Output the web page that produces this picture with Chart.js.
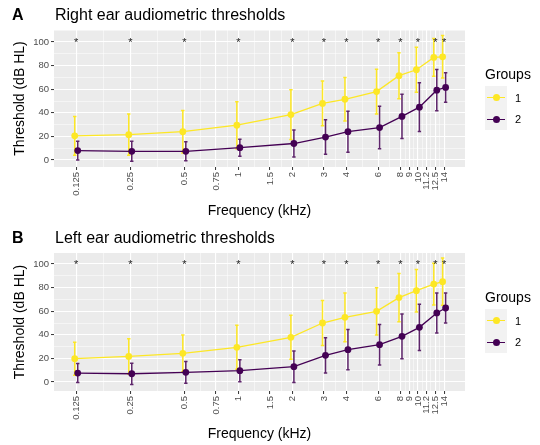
<!DOCTYPE html>
<html>
<head>
<meta charset="utf-8">
<script src="https://cdn.jsdelivr.net/npm/chart.js@4/dist/chart.umd.min.js"></script>
<style>
  body { margin: 0; width: 540px; height: 445px; background: #fff; position: relative; overflow: hidden;
         font-family: "Liberation Sans", Arial, sans-serif; color: #000; }
  .panel { position: absolute; left: 0; width: 540px; height: 222px; }
  .panel canvas { position: absolute; left: 0; top: 0; }
  .tag { position: absolute; left: 12px; top: 6px; font-size: 16px; line-height: 18px; font-weight: bold; }
  .title { position: absolute; left: 55px; top: 6px; font-size: 16px; line-height: 18px; }
  .lg-title { position: absolute; left: 485px; top: 66px; font-size: 14px; line-height: 16px; }
  .lg-box { position: absolute; left: 485px; top: 86px; width: 22px; height: 44px; background: #F2F2F2; }
  .key { position: absolute; left: 0; width: 22px; height: 22px; }
  .key .ln { position: absolute; left: 2px; right: 2px; top: 10.5px; height: 1.3px; }
  .key .pt { position: absolute; left: 7.5px; top: 7.5px; width: 7px; height: 7px; border-radius: 50%; }
  .lg-lab { position: absolute; left: 515px; font-size: 11px; line-height: 12px; }
</style>
</head>
<body>

<div class="panel" style="top:0">
  <canvas id="chartA" width="540" height="222"></canvas>
  <div class="tag">A</div>
  <div class="title">Right ear audiometric thresholds</div>
  <div class="lg-title">Groups</div>
  <div class="lg-box">
    <div class="key" style="top:0"><div class="ln" style="background:#FDE725"></div><div class="pt" style="background:#FDE725"></div></div>
    <div class="key" style="top:22px"><div class="ln" style="background:#440154"></div><div class="pt" style="background:#440154"></div></div>
  </div>
  <div class="lg-lab" style="top:92px">1</div>
  <div class="lg-lab" style="top:113px">2</div>
</div>

<div class="panel" style="top:223px">
  <canvas id="chartB" width="540" height="222"></canvas>
  <div class="tag">B</div>
  <div class="title">Left ear audiometric thresholds</div>
  <div class="lg-title">Groups</div>
  <div class="lg-box">
    <div class="key" style="top:0"><div class="ln" style="background:#FDE725"></div><div class="pt" style="background:#FDE725"></div></div>
    <div class="key" style="top:22px"><div class="ln" style="background:#440154"></div><div class="pt" style="background:#440154"></div></div>
  </div>
  <div class="lg-lab" style="top:92px">1</div>
  <div class="lg-lab" style="top:113px">2</div>
</div>

<script>
// tested frequencies (kHz)
const freqs = [0.125, 0.25, 0.5, 1, 2, 3, 4, 6, 8, 10, 12.5, 14];

// x axis breaks
const tickFreqs  = [0.125, 0.25, 0.5, 0.75, 1, 1.5, 2, 3, 4, 6, 8, 9, 10, 11.2, 12.5, 14];
const tickLabels = ["0.125", "0.25", "0.5", "0.75", "1", "1.5", "2", "3", "4", "6", "8", "9", "10", "11.2", "12.5", "14"];
const minorFreqs = [0.177, 0.354, 0.612, 0.866, 1.225, 1.732, 2.449, 3.464, 4.899, 6.928, 8.485, 9.487, 10.58, 11.83, 13.23];

// y axis breaks
const yMajor = [0, 20, 40, 60, 80, 100];
const yMinor = [10, 30, 50, 70, 90, 110];

// right ear, mean and SD
const rightG1   = [20.5, 21.5, 24, 29.5, 38.5, 48, 51.5, 58, 71.5, 76.5, 87, 87.5];
const rightG1Sd = [16.5, 17.5, 18, 20, 21, 19, 18.5, 19, 19.5, 19, 16, 18];
const rightG2   = [8, 7.4, 7.4, 10.5, 14, 19.5, 24, 27.5, 37, 44.8, 59.2, 61.5];
const rightG2Sd = [8, 8.5, 8, 7.2, 11.5, 14.7, 17.4, 18, 18.7, 20.7, 17.5, 12.5];

// left ear, mean and SD
const leftG1   = [19.8, 21.7, 24.3, 29.4, 37.9, 50, 54.8, 59.9, 71.5, 77.4, 83, 85];
const leftG1Sd = [14, 15, 15.5, 18.6, 18.6, 19, 20.7, 20, 20.5, 18, 17.7, 20];
const leftG2   = [7.6, 7, 8.2, 9.6, 13, 22.6, 27.4, 31.6, 38.7, 46.3, 58.5, 62.7];
const leftG2Sd = [8, 9, 9.2, 9.3, 13.3, 15, 17, 17.2, 19, 19.6, 17, 12.7];

// significance markers
const sigFreqs = [0.125, 0.25, 0.5, 1, 2, 3, 4, 6, 8, 10, 12.5, 14];
const sigY = 102;

const YELLOW = "#FDE725";
const PURPLE = "#440154";

const panelBg = {
  id: "panelBg",
  beforeDraw(chart) {
    const a = chart.chartArea, c = chart.ctx;
    c.save();
    c.fillStyle = "#EBEBEB";
    c.fillRect(a.left, a.top, a.right - a.left, a.bottom - a.top);
    c.restore();
  }
};

// position_dodge-like shift of points
const dodge = {
  id: "dodge",
  afterDatasetsUpdate(chart) {
    chart.data.datasets.forEach((ds, i) => {
      const meta = chart.getDatasetMeta(i);
      meta.data.forEach(p => { p.x += ds.dodge || 0; });
    });
  }
};

const errorBars = {
  id: "errorBars",
  beforeDatasetsDraw(chart) {
    const c = chart.ctx, y = chart.scales.y;
    c.save();
    chart.data.datasets.forEach((ds, i) => {
      if (!ds.sd) return;
      const meta = chart.getDatasetMeta(i);
      c.strokeStyle = ds.barColor;
      c.lineWidth = 1.5;
      meta.data.forEach((p, j) => {
        const m = ds.data[j].y, s = ds.sd[j];
        const yt = y.getPixelForValue(m + s), yb = y.getPixelForValue(m - s);
        c.beginPath();
        c.moveTo(p.x, yt); c.lineTo(p.x, yb);
        c.moveTo(p.x - 1.7, yt); c.lineTo(p.x + 1.7, yt);
        c.moveTo(p.x - 1.7, yb); c.lineTo(p.x + 1.7, yb);
        c.stroke();
      });
    });
    c.restore();
  }
};

const stars = {
  id: "stars",
  afterDatasetsDraw(chart) {
    const c = chart.ctx, xs = chart.scales.x, ys = chart.scales.y;
    c.save();
    c.fillStyle = "#1a1a1a";
    c.font = "11px 'Liberation Sans', Arial, sans-serif";
    c.textAlign = "center";
    c.textBaseline = "alphabetic";
    sigFreqs.forEach(f => {
      c.fillText("*", xs.getPixelForValue(f), ys.getPixelForValue(sigY) + 6.5);
    });
    c.restore();
  }
};

function isMajorX(v) { return tickFreqs.includes(v); }

function makePanel(id, g1, g1sd, g2, g2sd, yMin, yMax, xAxisH) {
  const pts = vals => freqs.map((f, i) => ({ x: f, y: vals[i] }));
  return new Chart(document.getElementById(id), {
    type: "line",
    data: {
      datasets: [
        { label: "1", data: pts(g1), sd: g1sd, dodge: -1.5, order: 1,
          borderColor: YELLOW, backgroundColor: YELLOW, barColor: YELLOW,
          borderWidth: 1.3, pointRadius: 3.4, pointBorderWidth: 0, tension: 0 },
        { label: "2", data: pts(g2), sd: g2sd, dodge: 1.5, order: 0,
          borderColor: PURPLE, backgroundColor: PURPLE, barColor: "rgba(68,1,84,0.85)",
          borderWidth: 1.3, pointRadius: 3.4, pointBorderWidth: 0, tension: 0 }
      ]
    },
    options: {
      responsive: false,
      animation: false,
      events: [],
      layout: { padding: { top: 30, right: 75, left: 0, bottom: 0 } },
      plugins: { legend: { display: false }, tooltip: { enabled: false } },
      scales: {
        x: {
          type: "logarithmic",
          min: 0.094, max: 18.3,
          afterBuildTicks: s => { s.ticks = tickFreqs.concat(minorFreqs).map(v => ({ value: v })); },
          afterFit: s => { s.height = xAxisH; },
          border: { display: false },
          grid: {
            color: "#FFFFFF",
            lineWidth: ctx => isMajorX(ctx.tick && ctx.tick.value) ? 1.1 : 0.5,
            tickColor: ctx => isMajorX(ctx.tick && ctx.tick.value) ? "#333333" : "rgba(0,0,0,0)",
            tickWidth: 1,
            tickLength: 3
          },
          ticks: {
            autoSkip: false, minRotation: 90, maxRotation: 90, padding: 2,
            color: "#4D4D4D", font: { size: 9.5, family: "'Liberation Sans', Arial, sans-serif" },
            callback: v => { const k = tickFreqs.indexOf(v); return k >= 0 ? tickLabels[k] : ""; }
          },
          title: {
            display: true, text: "Frequency (kHz)", color: "#000",
            font: { size: 14, family: "'Liberation Sans', Arial, sans-serif" },
            padding: { top: 0, bottom: 2 }
          }
        },
        y: {
          type: "linear",
          min: yMin, max: yMax,
          afterBuildTicks: s => { s.ticks = yMajor.concat(yMinor).filter(v => v >= yMin && v <= yMax).map(v => ({ value: v })); },
          afterFit: s => { s.width = 54; },
          border: { display: false },
          grid: {
            color: "#FFFFFF",
            lineWidth: ctx => yMajor.includes(ctx.tick && ctx.tick.value) ? 1.1 : 0.5,
            tickColor: ctx => yMajor.includes(ctx.tick && ctx.tick.value) ? "#333333" : "rgba(0,0,0,0)",
            tickWidth: 1,
            tickLength: 3
          },
          ticks: {
            autoSkip: false, padding: 2,
            color: "#4D4D4D", font: { size: 9.5, family: "'Liberation Sans', Arial, sans-serif" },
            callback: v => yMajor.includes(v) ? String(v) : ""
          },
          title: {
            display: true, text: "Threshold (dB HL)", color: "#000",
            font: { size: 14, family: "'Liberation Sans', Arial, sans-serif" },
            padding: { top: 12, bottom: 0 }
          }
        }
      }
    },
    plugins: [panelBg, dodge, errorBars, stars]
  });
}

makePanel("chartA", rightG1, rightG1Sd, rightG2, rightG2Sd, -5.9, 110.2, 55);
makePanel("chartB", leftG1, leftG1Sd, leftG2, leftG2Sd, -7.6, 109.3, 54);
</script>
</body>
</html>
